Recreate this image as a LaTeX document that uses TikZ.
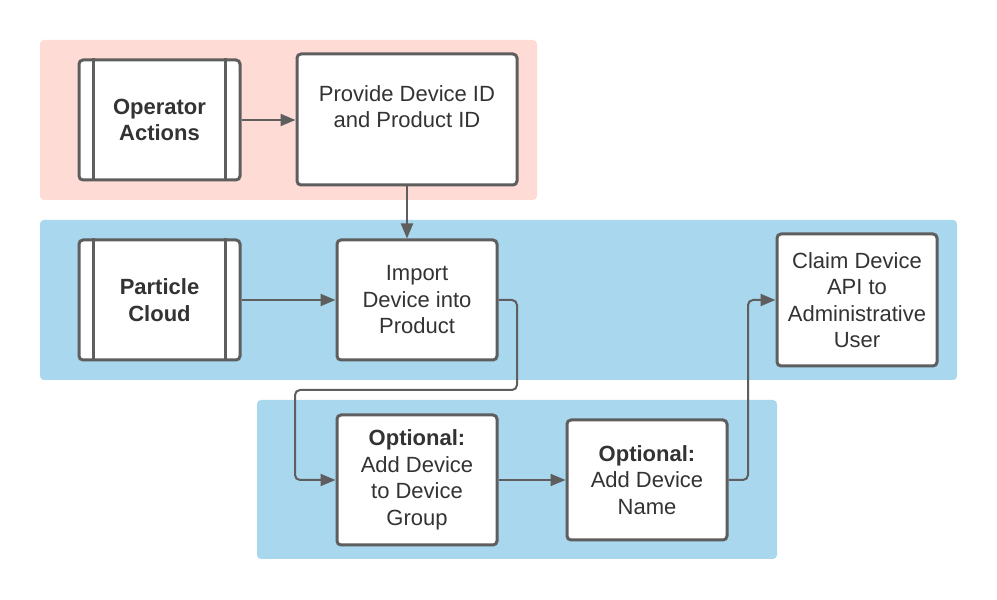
\documentclass[tikz,border=0pt]{standalone}
\usepackage{fontspec}
\setmainfont{Liberation Sans}
\usetikzlibrary{arrows.meta}
\definecolor{pinkbg}{RGB}{255,219,214}
\definecolor{bluebg}{RGB}{168,215,238}
\definecolor{edge}{RGB}{94,94,94}
\definecolor{txt}{RGB}{51,51,51}
\begin{document}
\begin{tikzpicture}[x=1pt,y=1pt,
  box/.style={draw=edge,fill=white,line width=3pt,rounded corners=4pt,align=center,
    font=\fontsize{22}{26.5}\selectfont,text=txt,inner sep=0pt},
  conn/.style={draw=edge,line width=2pt,-{Triangle[length=15pt,width=12pt]},rounded corners=5pt}]
\fill[white] (0,0) rectangle (997,600);
\useasboundingbox (0,0) rectangle (997,600);
% bands
\fill[pinkbg,rounded corners=4pt] (40,400) rectangle (537,560);
\fill[bluebg,rounded corners=4pt] (40,220) rectangle (957,380);
\fill[bluebg,rounded corners=4pt] (257,41) rectangle (777,200);
% nodes
\node[box,minimum width=161pt,minimum height=120pt] (op) at (159.5,480) {\textbf{Operator}\\\textbf{Actions}};
\draw[edge,line width=3pt] ([xshift=16pt]op.north west) -- ([xshift=16pt]op.south west);
\draw[edge,line width=3pt] ([xshift=-16pt]op.north east) -- ([xshift=-16pt]op.south east);
\node[box,minimum width=220pt,minimum height=131pt] (prov) at (407,480.5) {Provide Device ID\\and Product ID\\[-1pt]};
\node[box,minimum width=161pt,minimum height=120pt] (pc) at (159.5,300) {\textbf{Particle}\\\textbf{Cloud}};
\draw[edge,line width=3pt] ([xshift=16pt]pc.north west) -- ([xshift=16pt]pc.south west);
\draw[edge,line width=3pt] ([xshift=-16pt]pc.north east) -- ([xshift=-16pt]pc.south east);
\node[box,minimum width=160pt,minimum height=120pt] (imp) at (417,300) {Import\\Device into\\Product};
\node[box,minimum width=160pt,minimum height=132pt] (claim) at (857,300) {Claim Device\\API to\\Administrative\\User};
\node[box,minimum width=160pt,minimum height=130pt] (grp) at (417,120) {\textbf{Optional:}\\Add Device\\to Device\\Group};
\node[box,minimum width=160pt,minimum height=120pt] (nm) at (647,120) {\textbf{Optional:}\\Add Device\\Name};
% connectors
\draw[conn] (op.east) -- (prov.west |- op.east);
\draw[conn] (prov.south) -- (prov.south |- imp.north);
\draw[conn] (pc.east) -- (imp.west);
\draw[conn] (imp.east) -- (517,300) -- (517,210) -- (295,210) -- (295,120) -- (grp.west);
\draw[conn] (grp.east) -- (nm.west);
\draw[conn] (nm.east) -- (748,120) -- (748,300) -- (claim.west);
\end{tikzpicture}
\end{document}
